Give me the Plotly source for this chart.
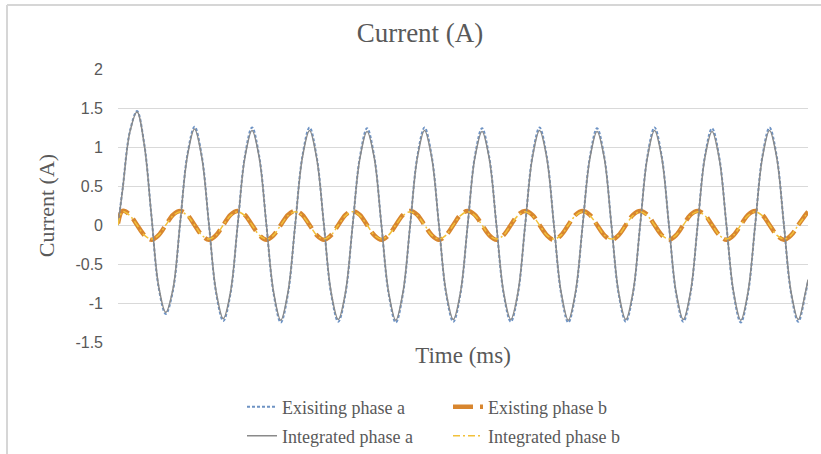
import plotly.graph_objects as go

# Sample times (ms): start point, then every 1/8 cycle, then the end of the window
time_ms = [
    0.0,
    1.3, 3.3, 5.3, 7.3, 9.3, 11.3, 13.3, 15.3,
    17.3, 19.3, 21.3, 23.3, 25.3, 27.3, 29.3, 31.3,
    33.3, 35.3, 37.3, 39.3, 41.3, 43.3, 45.3, 47.3,
    49.3, 51.3, 53.3, 55.3, 57.3, 59.3, 61.3, 63.3,
    65.3, 67.3, 69.3, 71.3, 73.3, 75.3, 77.3, 79.3,
    81.3, 83.3, 85.3, 87.3, 89.3, 91.3, 93.3, 95.3,
    97.3, 99.3, 101.3, 103.3, 105.3, 107.3, 109.3, 111.3,
    113.3, 115.3, 117.3, 119.3, 121.3, 123.3, 125.3, 127.3,
    129.3, 131.3, 133.3, 135.3, 137.3, 139.3, 141.3, 143.3,
    145.3, 147.3, 149.3, 151.3, 153.3, 155.3, 157.3, 159.3,
    161.3, 163.3, 165.3, 167.3, 169.3, 171.3, 173.3, 175.3,
    177.3, 179.3, 181.3, 183.3, 185.3, 187.3, 189.3, 191.3,
    192.0,
]

existing_a = [
    0.00,
    0.47, 1.20, 1.46, 1.04, 0.12, -0.80, -1.14, -0.84,
    0.03, 0.90, 1.26, 0.89, 0.01, -0.87, -1.23, -0.88,
    0.00, 0.88, 1.25, 0.88, 0.00, -0.88, -1.25, -0.88,
    0.00, 0.88, 1.25, 0.87, 0.00, -0.88, -1.24, -0.88,
    0.00, 0.87, 1.24, 0.88, 0.00, -0.88, -1.25, -0.88,
    0.00, 0.88, 1.25, 0.88, 0.00, -0.88, -1.24, -0.88,
    0.00, 0.88, 1.24, 0.87, 0.00, -0.88, -1.24, -0.88,
    0.00, 0.88, 1.25, 0.88, 0.00, -0.88, -1.25, -0.88,
    0.00, 0.87, 1.24, 0.88, 0.00, -0.88, -1.24, -0.88,
    0.00, 0.88, 1.25, 0.88, 0.00, -0.88, -1.24, -0.88,
    0.00, 0.88, 1.24, 0.87, 0.00, -0.88, -1.25, -0.88,
    0.00, 0.88, 1.25, 0.88, 0.00, -0.88, -1.24, -0.88,
    -0.72,
]

existing_b = [
    0.02,
    0.18, 0.13, 0.00, -0.13, -0.19, -0.13, 0.00, 0.13,
    0.18, 0.13, 0.00, -0.13, -0.19, -0.13, 0.00, 0.13,
    0.18, 0.13, 0.00, -0.13, -0.19, -0.13, 0.00, 0.13,
    0.18, 0.13, 0.00, -0.13, -0.19, -0.13, 0.00, 0.13,
    0.18, 0.13, 0.00, -0.13, -0.19, -0.13, 0.00, 0.13,
    0.18, 0.13, 0.00, -0.13, -0.19, -0.13, 0.00, 0.13,
    0.18, 0.13, 0.00, -0.13, -0.19, -0.13, 0.00, 0.13,
    0.18, 0.13, 0.00, -0.13, -0.19, -0.13, 0.00, 0.13,
    0.18, 0.13, 0.00, -0.13, -0.19, -0.13, 0.00, 0.13,
    0.18, 0.13, 0.00, -0.13, -0.19, -0.13, 0.00, 0.13,
    0.18, 0.13, 0.00, -0.13, -0.19, -0.13, 0.00, 0.13,
    0.18, 0.13, 0.00, -0.13, -0.19, -0.13, 0.00, 0.13,
    0.17,
]

integrated_a = [
    0.00,
    0.46, 1.19, 1.45, 1.03, 0.12, -0.78, -1.12, -0.82,
    0.03, 0.88, 1.23, 0.87, 0.01, -0.85, -1.20, -0.86,
    0.00, 0.86, 1.21, 0.86, 0.00, -0.86, -1.22, -0.86,
    0.00, 0.86, 1.21, 0.85, 0.00, -0.86, -1.21, -0.86,
    0.00, 0.85, 1.20, 0.86, 0.00, -0.86, -1.22, -0.86,
    0.00, 0.86, 1.21, 0.86, 0.00, -0.86, -1.21, -0.86,
    0.00, 0.86, 1.20, 0.85, 0.00, -0.86, -1.21, -0.86,
    0.00, 0.86, 1.21, 0.86, 0.00, -0.86, -1.22, -0.86,
    0.00, 0.85, 1.20, 0.86, 0.00, -0.86, -1.21, -0.86,
    0.00, 0.86, 1.21, 0.86, 0.00, -0.86, -1.21, -0.86,
    0.00, 0.86, 1.20, 0.85, 0.00, -0.86, -1.22, -0.86,
    0.00, 0.86, 1.21, 0.86, 0.00, -0.86, -1.21, -0.86,
    -0.70,
]

integrated_b = [
    0.00,
    0.17, 0.12, 0.00, -0.13, -0.18, -0.13, 0.00, 0.12,
    0.17, 0.12, 0.00, -0.13, -0.18, -0.13, 0.00, 0.12,
    0.17, 0.12, 0.00, -0.13, -0.18, -0.13, 0.00, 0.12,
    0.17, 0.12, 0.00, -0.13, -0.18, -0.13, 0.00, 0.12,
    0.17, 0.12, 0.00, -0.13, -0.18, -0.13, 0.00, 0.12,
    0.17, 0.12, 0.00, -0.13, -0.18, -0.13, 0.00, 0.12,
    0.17, 0.12, 0.00, -0.13, -0.18, -0.13, 0.00, 0.12,
    0.17, 0.12, 0.00, -0.13, -0.18, -0.13, 0.00, 0.12,
    0.17, 0.12, 0.00, -0.13, -0.18, -0.13, 0.00, 0.12,
    0.17, 0.12, 0.00, -0.13, -0.18, -0.13, 0.00, 0.12,
    0.17, 0.12, 0.00, -0.13, -0.18, -0.13, 0.00, 0.12,
    0.17, 0.12, 0.00, -0.13, -0.18, -0.13, 0.00, 0.12,
    0.16,
]

y_ticks = [-1.5, -1, -0.5, 0, 0.5, 1, 1.5, 2]
y_tick_text = ["-1.5", "-1", "-0.5", "0", "0.5", "1", "1.5", "2"]

W, H = 821, 454
PLOT_L, PLOT_R, PLOT_T, PLOT_B = 118, 808, 69, 342

SERIF = "Liberation Serif, Times New Roman, serif"
SANS = "Liberation Sans, Arial, sans-serif"
TEXT = "#595959"


def paper_x(px):
    return (px - PLOT_L) / (PLOT_R - PLOT_L)


def paper_y(py):
    return (PLOT_B - py) / (PLOT_B - PLOT_T)


fig = go.Figure()

fig.add_trace(go.Scatter(
    x=time_ms, y=existing_a, name="Exisiting phase a", mode="lines",
    line=dict(color="#6e93c4", width=2, dash="3px,2px", shape="spline"),
    legend="legend",
))
fig.add_trace(go.Scatter(
    x=time_ms, y=existing_b, name="Existing phase b", mode="lines",
    line=dict(color="#d8862f", width=4.5, dash="20px,7px", shape="spline"),
    legend="legend",
))
fig.add_trace(go.Scatter(
    x=time_ms, y=integrated_a, name="Integrated phase a", mode="lines",
    line=dict(color="#8a8a8a", width=1.5, shape="spline"),
    legend="legend2",
))
fig.add_trace(go.Scatter(
    x=time_ms, y=integrated_b, name="Integrated phase b", mode="lines",
    line=dict(color="#f2c13a", width=1.5, dash="7px,3px,2px,3px", shape="spline"),
    legend="legend2",
))

# Legends sit in container coordinates so they don't shrink the plot area
legend_common = dict(
    orientation="h", xref="container", yref="container",
    xanchor="left", yanchor="middle",
    font=dict(family=SERIF, size=18, color=TEXT),
    bgcolor="rgba(0,0,0,0)", entrywidth=161, entrywidthmode="pixels",
    tracegroupgap=0,
)

fig.update_layout(
    width=W, height=H,
    margin=dict(l=PLOT_L, r=W - PLOT_R, t=PLOT_T, b=H - PLOT_B),
    paper_bgcolor="white", plot_bgcolor="white",
    title=dict(
        text="Current (A)", x=420 / W, xref="container", xanchor="center",
        y=1 - 33 / H, yref="container", yanchor="middle",
        font=dict(family=SERIF, size=27, color=TEXT),
    ),
    xaxis=dict(
        range=[0, 192], showgrid=False, zeroline=False, showline=False,
        showticklabels=False, ticks="",
        title=dict(text="Time (ms)", standoff=4,
                   font=dict(family=SERIF, size=23, color=TEXT)),
    ),
    yaxis=dict(
        range=[-1.5, 2], tickvals=y_ticks, ticktext=y_tick_text,
        showgrid=True, gridcolor="#d9d9d9", gridwidth=1,
        zeroline=False, showline=False, ticks="",
        ticklabelstandoff=14,
        tickfont=dict(family=SANS, size=16, color=TEXT),
        title=dict(text="Current (A)", standoff=14,
                   font=dict(family=SERIF, size=22, color=TEXT)),
    ),
    legend=dict(x=242 / W, y=1 - 407 / H, **legend_common),
    legend2=dict(x=242 / W, y=1 - 436 / H, **legend_common),
    showlegend=True,
)

# Light chart-area frame along the top and left edges
frame = dict(type="line", xref="paper", yref="paper",
             line=dict(color="#d6d6d6", width=2), layer="above")
fig.add_shape(x0=paper_x(7), x1=paper_x(W), y0=paper_y(5), y1=paper_y(5), **frame)
fig.add_shape(x0=paper_x(7), x1=paper_x(7), y0=paper_y(5), y1=paper_y(H), **frame)

fig.write_html("out.html")
